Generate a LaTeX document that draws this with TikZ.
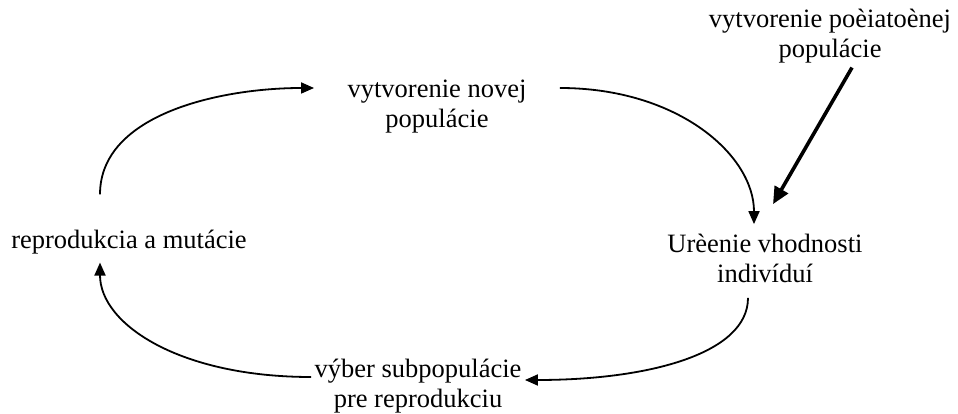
\documentclass[tikz,border=0pt]{standalone}
\usepackage{fontspec}
\setmainfont{Liberation Serif}
\usetikzlibrary{positioning}
\usetikzlibrary{arrows.meta}

\begin{document}
\begin{tikzpicture}[x = 1pt, y = 1pt,
		phase/.style = {align = center, font = \fontsize{26.5}{30}\selectfont},
		flow/.style = {line width = 1.8pt, -{Triangle[length = 13pt, width = 11pt]}},
		initflow/.style = {line width = 3.6pt, -{Triangle[length = 17pt, width = 15pt]}}]
		\useasboundingbox (0, 0) rectangle (958, 414);
		
		\node[phase] (nova) at (437, 307) {vytvorenie novej\\populácie};
		\node[phase] (pociatok) at (830, 378) {vytvorenie poèiatoènej\\populácie};
		\node[phase] (reprod) at (129, 172) {reprodukcia a mutácie};
		\node[phase] (urcenie) at (765, 156) {Urèenie vhodnosti\\indivíduí};
		\node[phase] (vyber) at (418, 28) {výber subpopulácie\\pre reprodukciu};
		
		\draw[flow] ([xshift = -29pt, yshift = 32pt]reprod.north) .. controls +(0, 81) and +(-92, 0) .. ([xshift = -30pt, yshift = 19pt]nova.west);
		\draw[flow] ([xshift = 30pt, yshift = 19pt]nova.east) .. controls +(118, 0) and +(0, 69) .. ([xshift = -11pt, yshift = 6pt]urcenie.north);
		\draw[initflow] ([xshift = 22pt, yshift = -1pt]pociatok.south) -- ([xshift = 8pt, yshift = 26pt]urcenie.north);
		\draw[flow] ([xshift = -17pt, yshift = -12pt]urcenie.south) .. controls +(0, -56) and +(123, 0) .. ([yshift = 6pt]vyber.east);
		\draw[flow] ([yshift = 9pt]vyber.west) .. controls +(-131, 0) and +(0, -62) .. ([xshift = -29pt, yshift = -5pt]reprod.south);
	\end{tikzpicture}
\end{document}
